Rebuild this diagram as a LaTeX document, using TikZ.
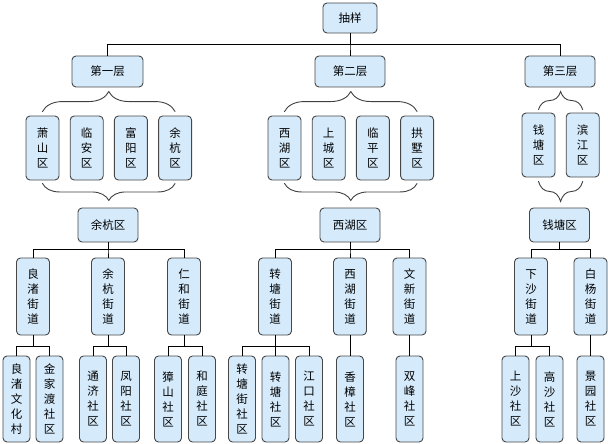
\documentclass[tikz,border=0pt]{standalone}
\usepackage{fontspec}
\newfontfamily\cjk{Noto Sans CJK SC}
\usepackage{tikz}
\usetikzlibrary{positioning,decorations.pathreplacing}
\definecolor{boxblue}{HTML}{D5EBFC}
\tikzset{%
boxnode/.style={rectangle, rounded corners=4pt, draw=black!72, line width=0.9pt, fill=boxblue, inner sep=0pt, align=center, font=\cjk\fontsize{11.5}{15}\selectfont},
headnode/.style={boxnode, minimum height=31pt},
distnode/.style={boxnode, minimum width=33pt, minimum height=64pt},
streetnode/.style={boxnode, minimum width=33pt, minimum height=77pt},
commnode/.style={boxnode, minimum width=27pt, minimum height=86pt},
tr/.style={draw=black, line width=1pt},
br/.style={draw=black!75, line width=0.9pt, line cap=round, decorate, decoration={brace, amplitude=#1}}
}
\begin{document}
\begin{tikzpicture}[x=1pt,y=-1pt,node distance=10.3pt]
		\useasboundingbox (0,0) rectangle (608,444);
		% top levels
		\node[headnode, minimum width=54pt, minimum height=30pt] (sample) at (350,18) {抽样};
		\node[headnode, minimum width=71pt] (layerone) at (107.5,71.5) {第一层};
		\node[headnode, minimum width=70pt] (layertwo) at (350,71.5) {第二层};
		\node[headnode, minimum width=70pt] (layerthree) at (560,71.5) {第三层};
		
		% districts
		\node[distnode] (xiaoshan) at (42.5,148) {萧\\山\\区};
		\node[distnode] (linan) [right=of xiaoshan] {临\\安\\区};
		\node[distnode] (fuyang) [right=of linan] {富\\阳\\区};
		\node[distnode] (yuhang) [right=of fuyang] {余\\杭\\区};
		\node[distnode] (xihu) at (284.5,148) {西\\湖\\区};
		\node[distnode] (shangcheng) [right=of xihu] {上\\城\\区};
		\node[distnode] (linping) [right=of shangcheng] {临\\平\\区};
		\node[distnode] (gongshu) [right=of linping] {拱\\墅\\区};
		\node[distnode] (qiantang) at (538.5,145) {钱\\塘\\区};
		\node[distnode] (binjiang) [right=of qiantang] {滨\\江\\区};
		
		\node[headnode, minimum width=60pt, minimum height=34pt] (yuhangmid) at (108,225) {余杭区};
		\node[headnode, minimum width=60pt, minimum height=34pt] (xihumid) at (350,225) {西湖区};
		\node[headnode, minimum width=60pt, minimum height=34pt] (qiantangmid) at (559.5,225) {钱塘区};
		
		% streets
		\node[streetnode] (liangzhu) at (33,296.5) {良\\渚\\街\\道};
		\node[streetnode] (yuhangjd) at (108,296.5) {余\\杭\\街\\道};
		\node[streetnode] (renhe) at (184,296.5) {仁\\和\\街\\道};
		\node[streetnode] (zhuantang) at (275,296.5) {转\\塘\\街\\道};
		\node[streetnode] (xihujd) at (350,296.5) {西\\湖\\街\\道};
		\node[streetnode] (wenxin) at (409.5,296.5) {文\\新\\街\\道};
		\node[streetnode] (xiasha) at (531,296.5) {下\\沙\\街\\道};
		\node[streetnode] (baiyang) at (590.5,296.5) {白\\杨\\街\\道};
		
		% communities
		\node[commnode] (lzwhc) at (16.5,399) {良\\渚\\文\\化\\村};
		\node[commnode] (jjdsq) at (49.5,399) {金\\家\\渡\\社\\区};
		\node[commnode] (tongji) at (93,399) {通\\济\\社\\区};
		\node[commnode] (fengyang) at (126,399) {凤\\阳\\社\\区};
		\node[commnode] (zhangshan) at (168,399) {獐\\山\\社\\区};
		\node[commnode] (heting) at (202,399) {和\\庭\\社\\区};
		\node[commnode] (ztjsq) at (242,399) {转\\塘\\街\\社\\区};
		\node[commnode] (ztsq) at (275.5,399) {转\\塘\\社\\区};
		\node[commnode] (jiangkou) at (309,399) {江\\口\\社\\区};
		\node[commnode] (xiangzhang) at (350,399) {香\\樟\\社\\区};
		\node[commnode] (shuangfeng) at (409.5,399) {双\\峰\\社\\区};
		\node[commnode] (shangsha) at (515.5,399) {上\\沙\\社\\区};
		\node[commnode] (gaosha) at (549.5,399) {高\\沙\\社\\区};
		\node[commnode] (jingyuan) at (590.5,399) {景\\园\\社\\区};
		
		% tree lines
		\foreach \l in {layerone,layertwo,layerthree}
			\draw[tr] (sample.south) -- ++(0,11) -| (\l.north);
		\foreach \s in {liangzhu,yuhangjd,renhe}
			\draw[tr] (yuhangmid.south) -- ++(0,7) -| (\s.north);
		\foreach \s in {zhuantang,xihujd,wenxin}
			\draw[tr] (xihumid.south) -- ++(0,7) -| (\s.north);
		\foreach \s in {xiasha,baiyang}
			\draw[tr] (qiantangmid.south) -- ++(0,7) -| (\s.north);
		\foreach \p/\c in {liangzhu/lzwhc,liangzhu/jjdsq,yuhangjd/tongji,yuhangjd/fengyang,renhe/zhangshan,renhe/heting,zhuantang/ztjsq,zhuantang/ztsq,zhuantang/jiangkou,xiasha/shangsha,xiasha/gaosha}
			\draw[tr] (\p.south) -- ++(0,11) -| (\c.north);
		\foreach \p/\c in {xihujd/xiangzhang,wenxin/shuangfeng,baiyang/jingyuan}
			\draw[tr] (\p) -- (\c);
		
		% braces
		\draw[br=20pt] ([yshift=4pt]xiaoshan.north) -- ([yshift=4pt]yuhang.north);
		\draw[br=17pt] ([yshift=-3pt]yuhang.south) -- ([yshift=-3pt]xiaoshan.south);
		\draw[br=20pt] ([yshift=4pt]xihu.north) -- ([yshift=4pt]gongshu.north);
		\draw[br=17pt] ([yshift=-3pt]gongshu.south) -- ([yshift=-3pt]xihu.south);
		\draw[br=18pt] ([yshift=3pt]qiantang.north) -- ([yshift=3pt]binjiang.north);
		\draw[br=20pt] ([yshift=-4pt]binjiang.south) -- ([yshift=-4pt]qiantang.south);
	\end{tikzpicture}
\end{document}
